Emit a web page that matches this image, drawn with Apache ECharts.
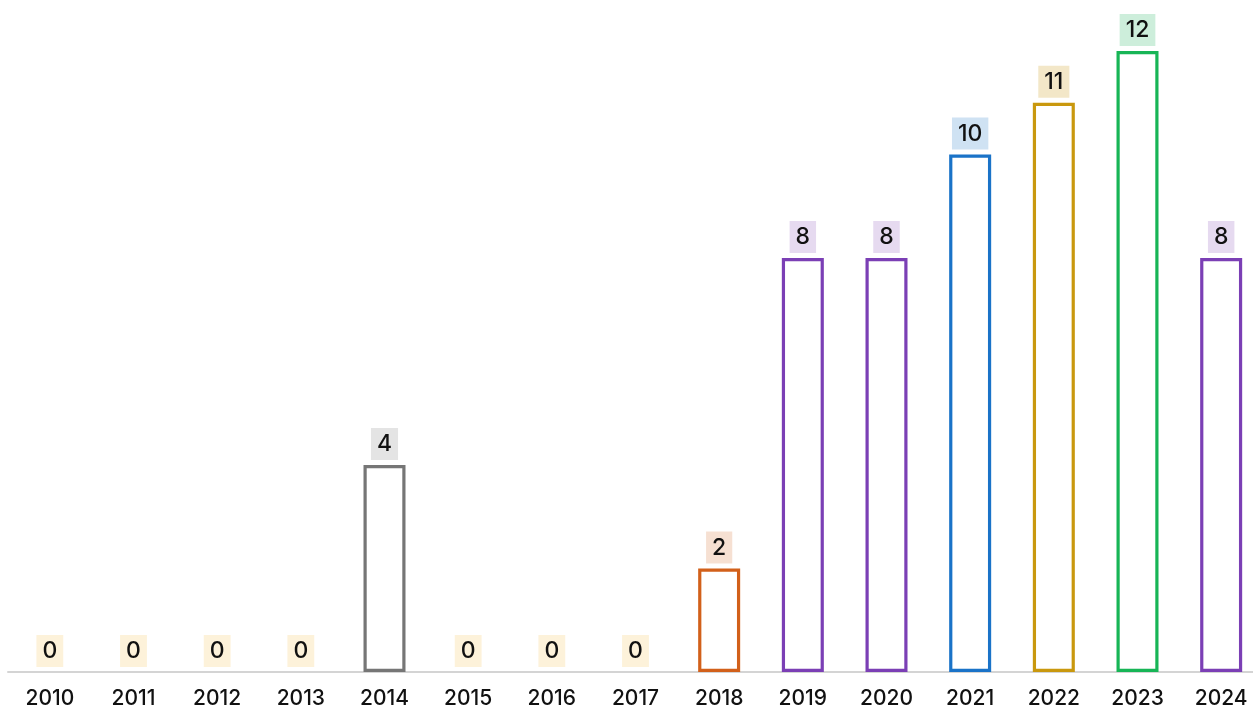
<!DOCTYPE html>
<html>
<head>
<meta charset="utf-8">
<style>
  html, body { margin: 0; padding: 0; background: #fff; }
  #chart { width: 1253px; height: 708px; }
</style>
<script src="https://cdn.jsdelivr.net/npm/echarts@6/dist/echarts.min.js"></script>
</head>
<body>
<div id="chart"></div>
<script>
// 年份与数量
const years = ['2010', '2011', '2012', '2013', '2014', '2015', '2016', '2017', '2018', '2019', '2020', '2021', '2022', '2023', '2024']
const counts = [0, 0, 0, 0, 4, 0, 0, 0, 2, 8, 8, 10, 11, 12, 8]

// 边框色 / 标签底色
const borderColors = ['#c9980e', '#c9980e', '#c9980e', '#c9980e', '#767676', '#c9980e', '#c9980e', '#c9980e', '#d2601a', '#7b3fb5', '#7b3fb5', '#1a73c8', '#c9980e', '#17b556', '#7b3fb5']
const labelBgs = ['#fdf2da', '#fdf2da', '#fdf2da', '#fdf2da', '#e4e4e4', '#fdf2da', '#fdf2da', '#fdf2da', '#f6e0d2', '#e6daf0', '#e6daf0', '#cfe2f3', '#f3e7c8', '#cdeedb', '#e6daf0']

let chart = echarts.init(document.getElementById('chart'))

let barData = counts.map(function (v, i) {
  return {
    value: v,
    itemStyle: {
      color: '#fff',
      borderColor: borderColors[i],
      borderWidth: v === 0 ? 0 : 3.2
    },
    label: {
      backgroundColor: labelBgs[i]
    }
  }
})

chart.setOption({
  animation: false,
  grid: {
    left: 8,
    width: 1255,
    top: 51,
    bottom: 36,
    containLabel: false,
    outerBoundsMode: 'none'
  },
  xAxis: {
    type: 'category',
    data: years,
    axisLine: { lineStyle: { color: '#d4d4d4', width: 2 } },
    axisTick: { show: false },
    axisLabel: {
      color: '#111',
      fontSize: 21,
      fontWeight: 500,
      fontFamily: 'Inter',
      margin: 16
    }
  },
  yAxis: {
    type: 'value',
    min: 0,
    max: 12,
    show: false,
    splitLine: { show: false }
  },
  series: [{
    type: 'bar',
    barWidth: 42,
    data: barData,
    label: {
      show: true,
      position: 'top',
      distance: 5,
      color: '#111',
      fontSize: 23,
      fontWeight: 500,
      fontFamily: 'Inter',
      lineHeight: 23,
      padding: [5, 6, 4, 6]
    }
  }]
})
</script>
</body>
</html>
